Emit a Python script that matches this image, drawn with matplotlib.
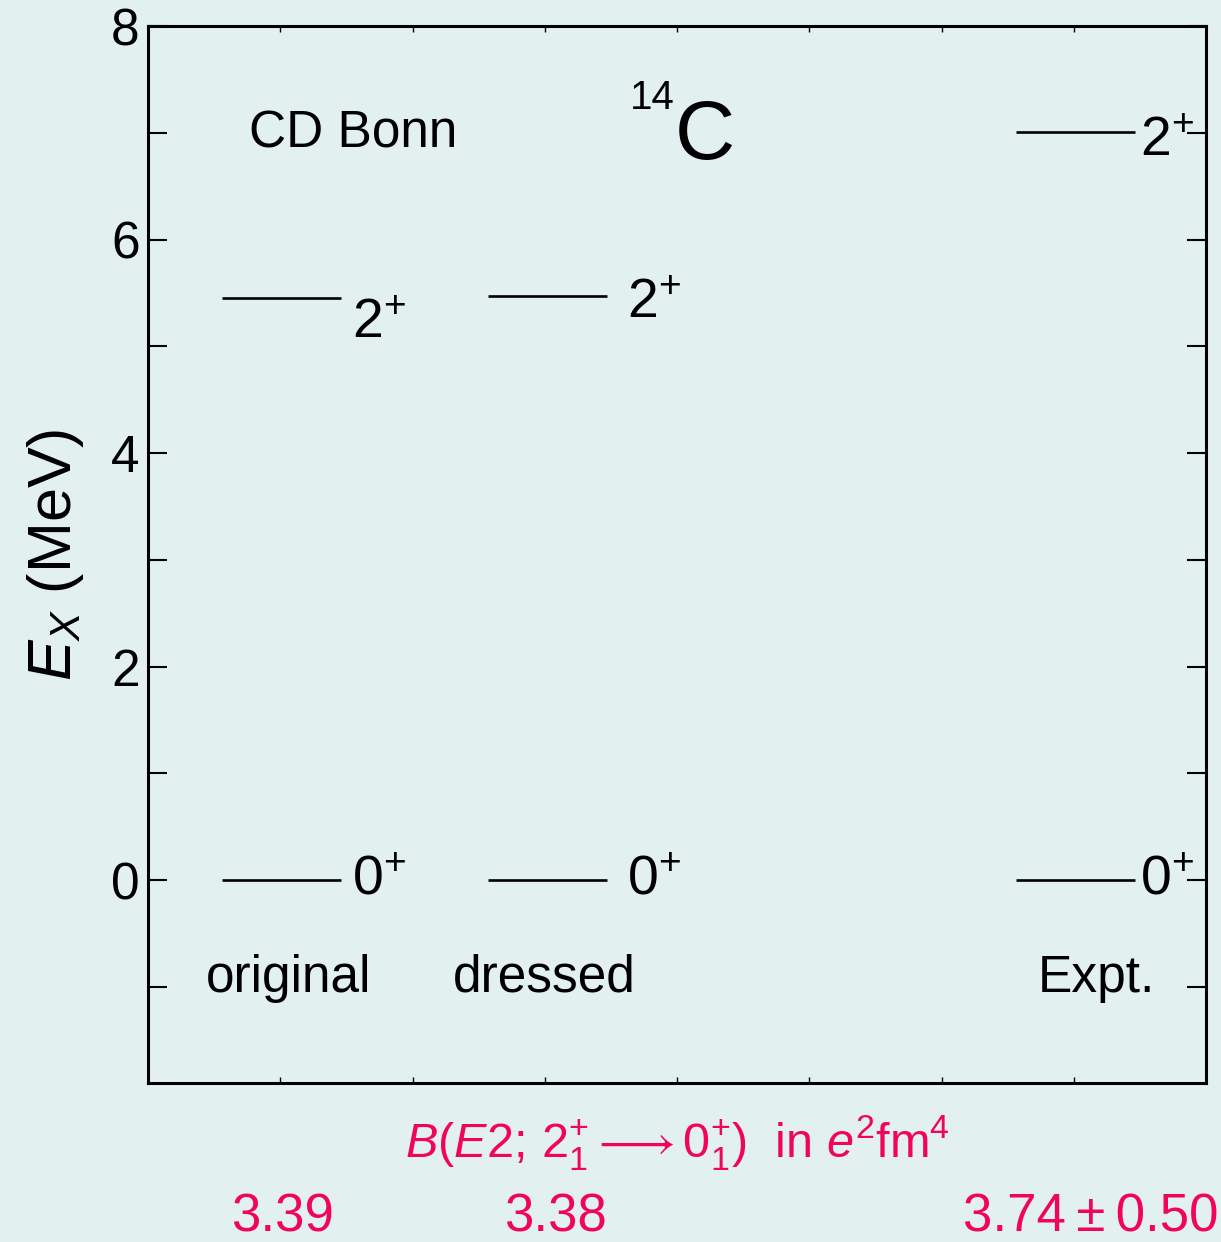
import matplotlib
matplotlib.use("Agg")
import matplotlib.pyplot as plt
import matplotlib.transforms as mtransforms

plt.rcParams['font.family'] = ['Liberation Sans', 'DejaVu Sans']
plt.rcParams['mathtext.fontset'] = 'custom'
plt.rcParams['mathtext.rm'] = 'Liberation Sans'
plt.rcParams['mathtext.it'] = 'Liberation Sans:italic'
plt.rcParams['mathtext.bf'] = 'Liberation Sans:bold'

# level schemes (MeV)
columns = ["original", "dressed", "Expt."]
energies_0 = [0.0, 0.0, 0.0]
energies_2 = [5.45, 5.47, 7.01]
spin_0 = r"$0^{+}$"
spin_2 = r"$2^{+}$"
be2_values = ["3.39", "3.38", "3.74\u2009\u00b1\u20090.50"]

bg = "#e2f0f0"
red = "#f0055a"

# layout
x_left = [0.56, 2.57, 6.56]
width = 0.90
lab_x = [1.54, 3.62, 7.50]
lab2_dy = [-0.24, -0.07, -0.1]
col_lab_x = [1.06, 3.0, 7.17]
be2_x = [1.02, 3.08, 7.13]

fig = plt.figure(figsize=(12.21, 12.42), dpi=100, facecolor=bg)
ax = fig.add_axes([148 / 1221, 1 - 1083 / 1242, 1058 / 1221, 1057 / 1242])
ax.set_facecolor(bg)

for i in range(len(columns)):
    for e in (energies_0[i], energies_2[i]):
        ax.plot([x_left[i], x_left[i] + width], [e, e], color="black", lw=1.9,
                solid_capstyle="butt")
    ax.text(lab_x[i], energies_0[i] + 0.0, spin_0, fontsize=40, ha="left", va="center")
    ax.text(lab_x[i], energies_2[i] + lab2_dy[i], spin_2, fontsize=40,
            ha="left", va="center")
    ax.text(col_lab_x[i], -0.92, columns[i], fontsize=37, ha="center", va="center")

ax.text(1.55, 6.99, "CD Bonn", fontsize=37, ha="center", va="center")
ax.text(3.98, 7.33, "14", fontsize=29, ha="right", va="center")
ax.text(3.98, 6.96, "C", fontsize=60, ha="left", va="center")

ax.set_xlim(0, 8)
ax.set_ylim(-1.9, 8)
ax.set_yticks([0, 2, 4, 6, 8])
ax.set_yticks([-1, 1, 3, 5, 7], minor=True)
ax.set_xticks(range(1, 8))
ax.set_xticklabels([])
ax.tick_params(axis="y", which="both", direction="in", length=14, width=1.5,
               right=True, labelsize=37, pad=6)
ax.tick_params(axis="x", which="both", direction="in", length=4, width=1.0,
               top=True)
for s in ax.spines.values():
    s.set_linewidth(2.2)

ax.set_ylabel(r"$E_X$ (MeV)", fontsize=44, labelpad=18)

trans = mtransforms.blended_transform_factory(ax.transData, ax.transAxes)
ax.text(4.0, -0.056,
        r"$B(E2;\,2^{+}_{1}\longrightarrow 0^{+}_{1})$  in $e^{2}$fm$^{4}$",
        fontsize=35, color=red, ha="center", va="center", transform=trans)
for i, v in enumerate(be2_values):
    ax.text(be2_x[i], -0.127, v, fontsize=38, color=red, ha="center",
            va="center", transform=trans)

fig.savefig("out.png", dpi=100, facecolor=bg)
